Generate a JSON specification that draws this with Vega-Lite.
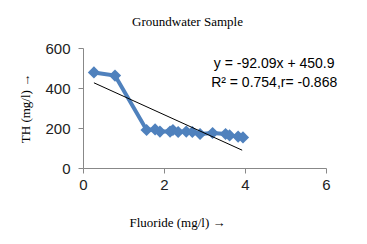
{
  "$schema": "https://vega.github.io/schema/vega-lite/v6.json",
  "width": 243,
  "height": 120,
  "autosize": {"type": "none"},
  "padding": {"left": 83, "top": 48, "right": 41, "bottom": 76},
  "background": "white",
  "title": {"text": "Groundwater Sample", "font": "Liberation Serif", "fontSize": 13, "fontWeight": "normal", "color": "black", "offset": 12, "dx": -17},
  "config": {"view": {"stroke": null}},
  "datasets": {
    "samples": [
      {"f": 0.27, "th": 478},
      {"f": 0.79, "th": 462},
      {"f": 1.57, "th": 190},
      {"f": 1.78, "th": 193},
      {"f": 1.9, "th": 182},
      {"f": 2.15, "th": 182},
      {"f": 2.22, "th": 190},
      {"f": 2.35, "th": 180},
      {"f": 2.55, "th": 182},
      {"f": 2.7, "th": 180},
      {"f": 2.89, "th": 170},
      {"f": 3.2, "th": 175},
      {"f": 3.52, "th": 170},
      {"f": 3.62, "th": 163},
      {"f": 3.83, "th": 157},
      {"f": 3.95, "th": 153}
    ],
    "trend": [
      {"f": 0.27, "th": 426},
      {"f": 3.93, "th": 89}
    ],
    "notes": [
      {"f": 4.72, "th": 520, "label": "y = -92.09x + 450.9"},
      {"f": 4.72, "th": 425, "label": "R² = 0.754,r= -0.868"}
    ]
  },
  "encoding": {
    "x": {"field": "f", "type": "quantitative", "scale": {"domain": [0, 6], "nice": false},
      "axis": {"values": [0, 2, 4, 6], "grid": false, "title": "Fluoride (mg/l) →", "titleFont": "Liberation Serif", "titleFontSize": 13, "titleFontWeight": "normal", "titleColor": "black", "titleX": 94, "titleY": 54, "titleBaseline": "middle", "labelFont": "Liberation Sans", "labelFontSize": 15, "labelColor": "#222", "labelPadding": 4, "tickSize": 5, "domainColor": "#888", "tickColor": "#888", "labelFlush": false, "labelOverlap": false}},
    "y": {"field": "th", "type": "quantitative", "scale": {"domain": [0, 600], "nice": false},
      "axis": {"tickCount": 3, "grid": false, "title": "TH (mg/l) →", "titleFont": "Liberation Serif", "titleFontSize": 13, "titleFontWeight": "normal", "titleColor": "black", "titlePadding": 12, "labelFont": "Liberation Sans", "labelFontSize": 15, "labelColor": "#222", "labelPadding": 8, "tickSize": 5, "domainColor": "#888", "tickColor": "#888", "labelFlush": false, "labelOverlap": false}}
  },
  "layer": [
    {
      "data": {"name": "samples"},
      "mark": {"type": "line", "color": "#4F81BD", "strokeWidth": 4, "point": {"shape": "diamond", "size": 150, "filled": true, "color": "#4F81BD", "opacity": 1}}
    },
    {
      "data": {"name": "trend"},
      "mark": {"type": "line", "color": "black", "strokeWidth": 1}
    },
    {
      "data": {"name": "notes"},
      "mark": {"type": "text", "font": "Liberation Sans", "fontSize": 14, "color": "black", "align": "center", "baseline": "middle"},
      "encoding": {
        "text": {"field": "label"}
      }
    }
  ]
}
